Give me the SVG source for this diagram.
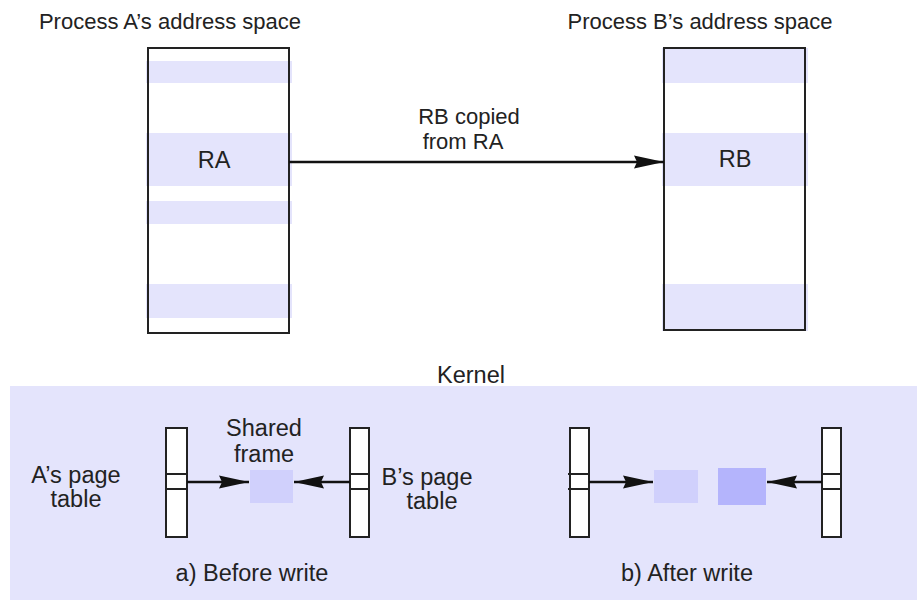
<svg xmlns="http://www.w3.org/2000/svg" width="923" height="602" viewBox="0 0 923 602">
<defs>
<style>
text{font-family:"Liberation Sans",Arial,sans-serif;font-size:23.5px;fill:#222}
.ttl{font-size:22px}
.lbl{font-size:22px}
.band{fill:#e4e4fc}
.box{fill:none;stroke:#222;stroke-width:2}
.pt{fill:#fff;stroke:#222;stroke-width:2}
.ln{stroke:#111;stroke-width:2.5;fill:none}
</style>
<marker id="ahL" markerWidth="30" markerHeight="16" refX="30" refY="8" orient="auto" markerUnits="userSpaceOnUse" viewBox="0 0 30 16">
<path d="M0,1.5 L30,8 L0,14.5 L3,8 Z" fill="#111"/>
</marker>
</defs>
<rect width="923" height="602" fill="#fff"/>
<g id="procA">
<text class="ttl" x="170" y="29" text-anchor="middle">Process A’s address space</text>
<rect class="band" x="146" y="61" width="146" height="22"/>
<rect class="band" x="146" y="133" width="146" height="53"/>
<rect class="band" x="146" y="201" width="146" height="23"/>
<rect class="band" x="146" y="284" width="146" height="34"/>
<rect class="box" x="148" y="48" width="141" height="285"/>
<text x="214" y="168" text-anchor="middle">RA</text>
</g>
<g id="procB">
<text class="ttl" x="700" y="29" text-anchor="middle">Process B’s address space</text>
<rect class="band" x="662" y="48" width="146" height="35"/>
<rect class="band" x="662" y="133" width="146" height="53"/>
<rect class="band" x="662" y="284" width="146" height="47"/>
<rect class="box" x="664" y="48" width="141" height="282"/>
<text x="735" y="167" text-anchor="middle">RB</text>
</g>
<g id="kernel">
<text x="471" y="383" text-anchor="middle">Kernel</text>
<rect class="band" x="10" y="386" width="907" height="214"/>
</g>
<g id="before">
<rect class="pt" x="166" y="428" width="21" height="109"/>
<line x1="166" y1="474" x2="187" y2="474" stroke="#222" stroke-width="2"/>
<line x1="166" y1="489" x2="187" y2="489" stroke="#222" stroke-width="2"/>
<rect class="pt" x="350" y="428" width="19" height="109"/>
<line x1="350" y1="474" x2="369" y2="474" stroke="#222" stroke-width="2"/>
<line x1="350" y1="489" x2="369" y2="489" stroke="#222" stroke-width="2"/>
<rect x="250" y="470" width="43" height="33" fill="#d0d0fc"/>
<text x="264" y="436" text-anchor="middle">Shared</text>
<text x="264" y="462" text-anchor="middle">frame</text>
<text x="76" y="483" text-anchor="middle">A’s page</text>
<text x="76" y="507" text-anchor="middle">table</text>
<text x="427" y="485" text-anchor="middle">B’s page</text>
<text x="432" y="509" text-anchor="middle">table</text>
<text x="252" y="581" text-anchor="middle">a) Before write</text>
</g>
<g id="after">
<rect class="pt" x="570" y="428" width="19" height="109"/>
<line x1="568" y1="474" x2="589" y2="474" stroke="#222" stroke-width="2"/>
<line x1="568" y1="489" x2="589" y2="489" stroke="#222" stroke-width="2"/>
<rect class="pt" x="822" y="428" width="19" height="109"/>
<line x1="822" y1="474" x2="841" y2="474" stroke="#222" stroke-width="2"/>
<line x1="822" y1="489" x2="841" y2="489" stroke="#222" stroke-width="2"/>
<rect x="654" y="470" width="44" height="33" fill="#d0d0fc"/>
<rect x="718" y="468" width="48" height="37" fill="#b4b4fc"/>
<text x="687" y="581" text-anchor="middle">b) After write</text>
</g>
<g id="connectors">
<line class="ln" x1="289" y1="162" x2="664" y2="162" marker-end="url(#ahL)"/>
<text class="lbl" x="469" y="124" text-anchor="middle">RB copied</text>
<text class="lbl" x="463" y="149" text-anchor="middle">from RA</text>
<line class="ln" x1="187" y1="482" x2="249" y2="482" marker-end="url(#ahL)"/>
<line class="ln" x1="350" y1="482" x2="294" y2="482" marker-end="url(#ahL)"/>
<line class="ln" x1="589" y1="482" x2="653" y2="482" marker-end="url(#ahL)"/>
<line class="ln" x1="822" y1="482" x2="767" y2="482" marker-end="url(#ahL)"/>
</g>
</svg>
